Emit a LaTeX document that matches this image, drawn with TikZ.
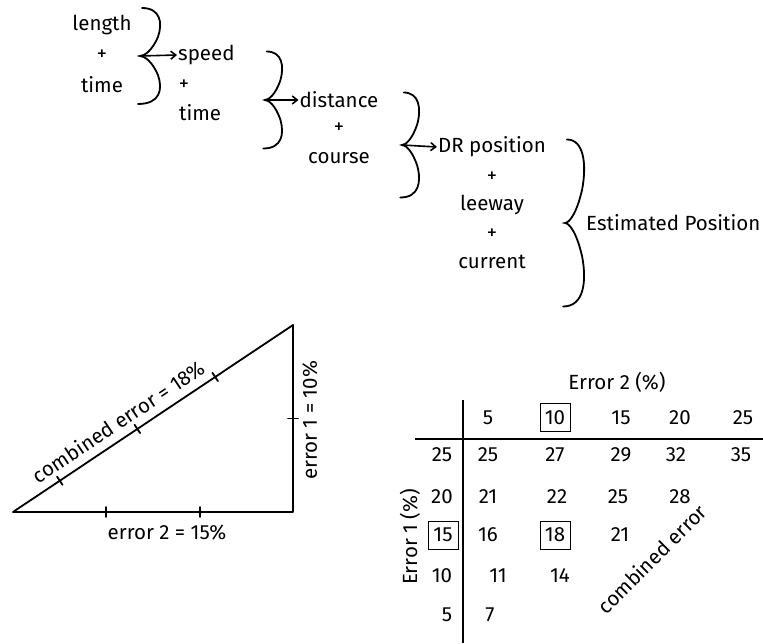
\documentclass[tikz,border=0pt]{standalone}
\usepackage{fontspec}
\setmainfont{Fira Sans}
\usetikzlibrary{arrows.meta,decorations.markings}

\begin{document}
\begin{tikzpicture}[
  x=1pt, y=1pt,
  font=\fontsize{20.5}{24}\selectfont,
  >={Straight Barb[length=5pt,width=8pt]},
  word/.style={inner sep=1pt},
  cell/.style={inner sep=1pt},
  boxed/.style={draw, line width=1pt, minimum width=30pt,
    minimum height=28pt, inner sep=2pt},
  arrow/.style={->, line width=1.6pt, line cap=round},
  curly/.style={line width=1.8pt, line cap=round},
  side/.style={line width=1.8pt, line cap=round, line join=round},
  rule/.style={line width=1.8pt},
  hbrace/.pic={
    \draw[curly] (0.1,0.5) .. controls (1,0.5) and (1.15,0.35) .. (0.9,0.2)
      .. controls (0.6,0.05) and (0.2,0) .. (0,0)
      .. controls (0.2,0) and (0.6,-0.05) .. (0.9,-0.2)
      .. controls (1.15,-0.35) and (1,-0.5) .. (-0.1,-0.5);
    \coordinate (-tip) at (0,0);
  }
]
\useasboundingbox (0,0) rectangle (763,643);

% Chain of quantities
\node[word] (length) at (102,618) {length};
\node[word] (plusa) at (102,588) {+};
\node[word] (timea) at (102,558) {time};
\pic[xscale=20, yscale=96] (bra) at (140,587) {hbrace};

\node[word, anchor=west] (speed) at (177,588) {speed};
\node[word] (plusb) at (184,558) {+};
\node[word, anchor=west] (timeb) at (178,530) {time};
\draw[arrow] (bra-tip) -- (speed.west);
\pic[xscale=17, yscale=97] (brb) at (265,543) {hbrace};

\node[word] (distance) at (339,543) {distance};
\node[word] (plusc) at (339,515) {+};
\node[word] (course) at (339,485) {course};
\draw[arrow] (brb-tip) -- (distance.west);
\pic[xscale=17, yscale=105] (brc) at (402,498) {hbrace};

\node[word] (dr) at (492,496) {DR position};
\node[word] (plusd) at (492,466) {+};
\node[word] (leeway) at (492,438) {leeway};
\node[word] (pluse) at (492,409) {+};
\node[word] (current) at (492,381) {current};
\draw[arrow] (brc-tip) -- (dr.west);
\pic[xscale=19, yscale=167] (brd) at (565,420) {hbrace};

\node[word, anchor=west] (estimated) at (585,420) {Estimated Position};

% Error triangle
\coordinate (tl) at (13,131);
\coordinate (tr) at (293,131);
\coordinate (tt) at (293,318);
\draw[side] (tl) -- (tr) -- (tt) -- cycle;
\path[postaction={decorate}, decoration={markings,
    mark=at position 0.278 with {\draw[side] (0,-5) -- (0,5);},
    mark=at position 0.556 with {\draw[side] (0,-5) -- (0,5);},
    mark=at position 0.833 with {\draw[side] (0,-5) -- (0,5);}}] (tt) -- (tl);
\path[postaction={decorate}, decoration={markings,
    mark=at position 0.333 with {\draw[side] (0,-5) -- (0,5);},
    mark=at position 0.667 with {\draw[side] (0,-5) -- (0,5);}}] (tr) -- (tl);
\path[postaction={decorate}, decoration={markings,
    mark=at position 0.5 with {\draw[side] (0,-5) -- (0,5);}}] (tr) -- (tt);
\path (tl) -- node[word, sloped, above=7pt, pos=0.41] (hyp) {combined error = 18\%} (tt);
\path (tr) -- node[word, sloped, below=8pt, pos=0.49] (errone) {error 1 = 10\%} (tt);
\path (tl) -- node[word, below=12pt, pos=0.55] (errtwo) {error 2 = 15\%} (tr);

% Table of combined errors
\node[word] (errtwohead) at (617,261) {Error 2 (\%)};
\node[word, rotate=90] (erronehead) at (410,106) {Error 1 (\%)};
\coordinate (vtop) at (463,243);
\coordinate (vbot) at (463,0);
\coordinate (hleft) at (415,204);
\coordinate (hright) at (763,204);
\draw[rule] (vtop) -- (vbot);
\draw[rule] (hleft) -- (hright);

\node[cell] (ca) at (488,225) {5};
\node[boxed] (cb) at (555,225) {10};
\node[cell] (cc) at (621,225) {15};
\node[cell] (cd) at (680,225) {20};
\node[cell] (ce) at (743,225) {25};

\node[cell] (ra) at (442,188) {25};
\node[cell] at (488,188) {25};
\node[cell] at (555,188) {27};
\node[cell] at (621,188) {29};
\node[cell] at (676,188) {32};
\node[cell] at (741,188) {35};

\node[cell] (rb) at (442,146) {20};
\node[cell] at (488,146) {21};
\node[cell] at (557,146) {22};
\node[cell] at (618,146) {25};
\node[cell] at (680,146) {28};

\node[boxed] (rc) at (443,108) {15};
\node[cell] at (488,108) {16};
\node[boxed] (hit) at (555,108) {18};
\node[cell] at (620,108) {21};

\node[cell] (rd) at (442,67) {10};
\node[cell] at (498,67) {11};
\node[cell] at (560,67) {14};

\node[cell] (re) at (447,28) {5};
\node[cell] at (490,28) {7};

\node[word, rotate=45] (combined) at (652,84) {combined error};

\end{tikzpicture}
\end{document}
